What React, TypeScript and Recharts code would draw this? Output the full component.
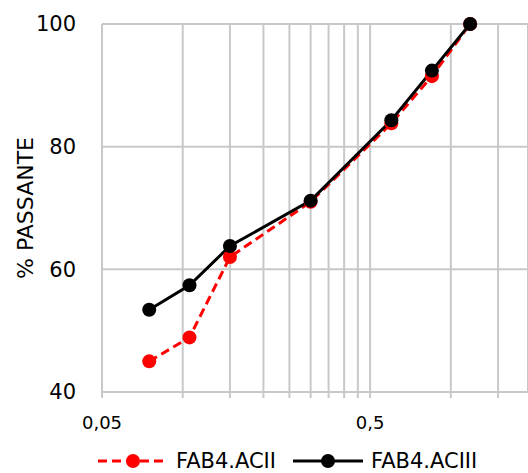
import React from 'react';
import { LineChart, Line, XAxis, YAxis, CartesianGrid, Legend, Label } from 'recharts';

const SIEVES = [0.075, 0.106, 0.15, 0.3, 0.6, 0.85, 1.18];
const FAB4_ACII = [45.0, 48.9, 62.0, 71.0, 83.8, 91.5, 100];
const FAB4_ACIII = [53.4, 57.4, 63.8, 71.2, 84.3, 92.4, 100];

const X_TICKS = [0.05, 0.1, 0.15, 0.2, 0.25, 0.3, 0.35, 0.4, 0.45, 0.5, 1, 1.5];
const X_LABELED = [0.05, 0.5];
const Y_TICKS = [40, 60, 80, 100];

const SERIES = [
  { key: 'acii', name: 'FAB4.ACII', color: '#ff0000', dash: '9 5', values: FAB4_ACII },
  { key: 'aciii', name: 'FAB4.ACIII', color: '#000000', dash: undefined as string | undefined, values: FAB4_ACIII },
];

const data = SIEVES.map((x, i) => {
  const row: Record<string, number> = { x };
  SERIES.forEach((s) => {
    row[s.key] = s.values[i];
  });
  return row;
});

const FONT = '"DejaVu Sans", sans-serif';
const GRID = '#c8c8c8';
const LEG_H = 36;

const fmtX = (v: number) => (X_LABELED.includes(v) ? String(v).replace('.', ',') : '');

const renderLegend = () => (
  <div
    style={{
      height: LEG_H,
      boxSizing: 'border-box',
      paddingTop: 12,
      paddingLeft: 98,
      fontFamily: FONT,
      fontSize: 21,
      color: '#000',
    }}
  >
    <div style={{ display: 'flex', alignItems: 'center', height: 24 }}>
      {SERIES.map((s) => (
        <div key={s.key} style={{ display: 'flex', alignItems: 'center', marginRight: 17 }}>
          <svg width={70} height={16} style={{ display: 'block' }}>
            <line x1={0} y1={8} x2={70} y2={8} stroke={s.color} strokeWidth={3} strokeDasharray={s.dash} />
            <circle cx={35} cy={8} r={7} fill={s.color} />
          </svg>
          <span style={{ marginLeft: 8, whiteSpace: 'nowrap', lineHeight: '24px' }}>{s.name}</span>
        </div>
      ))}
    </div>
  </div>
);

const YTitle = (props: any) => {
  const vb = props.viewBox || { x: 0, y: 0, width: 0, height: 0 };
  const cx = vb.x + 25;
  const cy = vb.y + vb.height / 2;
  return (
    <text
      x={cx}
      y={cy}
      transform={`rotate(-90 ${cx} ${cy})`}
      textAnchor="middle"
      dominantBaseline="central"
      fontFamily={FONT}
      fontSize={22}
      fill="#000"
    >
      % PASSANTE
    </text>
  );
};

export default function App() {
  return (
    <div style={{ position: 'absolute', left: 0, top: 0, background: '#fff' }}>
      <LineChart width={528} height={473} data={data} margin={{ top: 24, right: 0, bottom: 0, left: 0 }}>
        <CartesianGrid stroke={GRID} strokeWidth={2} />
        <XAxis
          dataKey="x"
          type="number"
          scale="log"
          domain={[0.05, 1.94]}
          allowDataOverflow
          ticks={X_TICKS}
          interval={0}
          tickFormatter={fmtX}
          height={45}
          axisLine={{ stroke: GRID, strokeWidth: 2 }}
          tickLine={{ stroke: GRID, strokeWidth: 2 }}
          tickSize={6}
          tickMargin={18}
          tick={{ fill: '#000', fontSize: 18, fontFamily: FONT }}
        />
        <YAxis
          type="number"
          domain={[40, 100]}
          ticks={Y_TICKS}
          width={102}
          axisLine={{ stroke: GRID, strokeWidth: 2 }}
          tickLine={false}
          tickSize={0}
          tickMargin={26}
          tick={{ fill: '#000', fontSize: 21, fontFamily: FONT }}
        >
          <Label content={<YTitle />} />
        </YAxis>
        <Legend verticalAlign="bottom" height={LEG_H} content={renderLegend} wrapperStyle={{ left: 0, width: 528 }} />
        {SERIES.map((s) => (
          <Line
            key={s.key}
            type="linear"
            dataKey={s.key}
            name={s.name}
            stroke={s.color}
            strokeWidth={3}
            strokeDasharray={s.dash}
            dot={{ r: 7, fill: s.color, stroke: 'none' }}
            activeDot={false}
            isAnimationActive={false}
          />
        ))}
      </LineChart>
    </div>
  );
}
